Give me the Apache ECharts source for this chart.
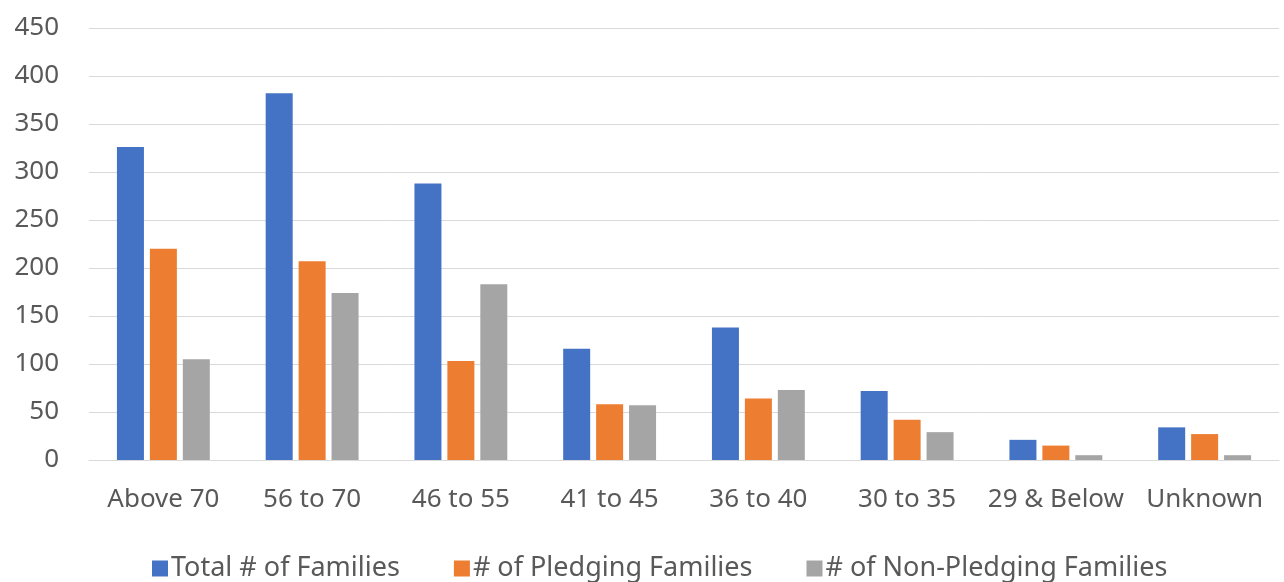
<!DOCTYPE html>
<html>
<head>
<meta charset="utf-8">
<script src="https://cdn.jsdelivr.net/npm/echarts@6/dist/echarts.min.js"></script>
<style>
html,body{margin:0;padding:0;background:#fff;}
#chart{width:1284px;height:582px;}
</style>
</head>
<body>
<div id="chart"></div>
<script>
var categories = ['Above 70','56 to 70','46 to 55','41 to 45','36 to 40','30 to 35','29 & Below','Unknown'];
var totalFamilies = [326, 382, 288, 116, 138, 72, 21, 34];
var pledgingFamilies = [220, 207, 103, 58, 64, 42, 15, 27];
var nonPledgingFamilies = [105, 174, 183, 57, 73, 29, 5, 5];
var seriesNames = ['Total # of Families', '# of Pledging Families', '# of Non-Pledging Families'];
var colors = ['#4472C4', '#ED7D31', '#A5A5A5'];

var font = "'Noto Sans', 'Open Sans', sans-serif";
var chart = echarts.init(document.getElementById('chart'));
chart.setOption({
  animation: false,
  backgroundColor: '#ffffff',
  color: colors,
  textStyle: {fontFamily: font},
  grid: {left: 89, right: 5, top: 28, bottom: 122, containLabel: false},
  legend: {
    left: 152, top: 555,
    padding: 0,
    itemWidth: 16, itemHeight: 16, itemGap: 54,
    icon: 'rect',
    textStyle: {fontSize: 27, color: '#595959', fontFamily: font, padding: [0,0,0,-2]},
    data: seriesNames
  },
  xAxis: {
    type: 'category',
    data: categories,
    axisLine: {show: true, lineStyle: {color: '#D9D9D9', width: 1}},
    axisTick: {show: false},
    axisLabel: {fontSize: 26, color: '#595959', margin: 27, fontFamily: font, interval: 0}
  },
  yAxis: {
    type: 'value',
    min: 0, max: 450, interval: 50,
    axisLine: {show: false},
    axisTick: {show: false},
    splitLine: {lineStyle: {color: '#D9D9D9', width: 1}},
    axisLabel: {fontSize: 26, color: '#595959', margin: 30, fontFamily: font}
  },
  series: [
    {name: seriesNames[0], type: 'bar', data: totalFamilies, barWidth: 27, barGap: '22%'},
    {name: seriesNames[1], type: 'bar', data: pledgingFamilies, barWidth: 27, barGap: '22%'},
    {name: seriesNames[2], type: 'bar', data: nonPledgingFamilies, barWidth: 27, barGap: '22%'}
  ]
});
</script>
</body>
</html>
